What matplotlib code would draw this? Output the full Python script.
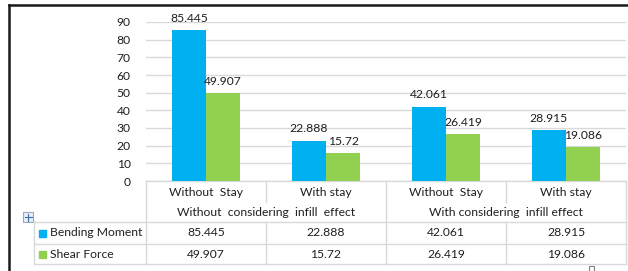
import matplotlib
matplotlib.use("Agg")
import matplotlib.pyplot as plt
from matplotlib.patches import Rectangle

# chart data
categories = ["Without  Stay", "With stay", "Without  Stay", "With stay"]
groups = ["Without  considering  infill  effect", "With considering  infill effect"]
series_names = ["Bending Moment", "Shear Force"]
bending_moment = [85.445, 22.888, 42.061, 28.915]
shear_force = [49.907, 15.72, 26.419, 19.086]
value_labels_bm = ["85.445", "22.888", "42.061", "28.915"]
value_labels_sf = ["49.907", "15.72", "26.419", "19.086"]
yticks = [0, 10, 20, 30, 40, 50, 60, 70, 80, 90]

BLUE = "#00B0F0"
GREEN = "#92D050"
GRID = "#D9D9D9"
TXT = "#1F1F1F"
FONT = "Lato"
FS = 8.7

W, H = 628, 271
fig = plt.figure(figsize=(W / 100, H / 100), dpi=100)
fig.patch.set_facecolor("white")

# overlay axis in pixel coords for the table and frame
ov = fig.add_axes([0, 0, 1, 1])
ov.set_xlim(0, W)
ov.set_ylim(H, 0)
ov.axis("off")

# plot area in pixels
x0, x1 = 146, 626
y_top, y_bot = 22, 181
ax = fig.add_axes([x0 / W, (H - y_bot) / H, (x1 - x0) / W, (y_bot - y_top) / H])
ax.set_xlim(-0.5, len(categories) - 0.5)
ax.set_ylim(0, 90)
ax.set_facecolor("none")
for s in ax.spines.values():
    s.set_visible(False)
ax.set_yticks(yticks)
ax.yaxis.grid(True, color=GRID, linewidth=1.0)
ax.set_axisbelow(True)
ax.tick_params(axis="y", length=0, pad=11, labelsize=FS, labelcolor=TXT)
for lab in ax.get_yticklabels():
    lab.set_fontfamily(FONT)
ax.set_xticks([])

idx = list(range(len(categories)))
bw = 0.285
ax.bar([i - bw / 2 for i in idx], bending_moment, width=bw, color=BLUE, zorder=2)
ax.bar([i + bw / 2 for i in idx], shear_force, width=bw, color=GREEN, zorder=2)
for i in idx:
    ax.annotate(value_labels_bm[i], (i - bw / 2, bending_moment[i]), xytext=(0, 4.5),
                textcoords="offset points", ha="center", va="bottom",
                fontsize=FS, family=FONT, color=TXT)
    ax.annotate(value_labels_sf[i], (i + bw / 2, shear_force[i]), xytext=(0, 4.5),
                textcoords="offset points", ha="center", va="bottom",
                fontsize=FS, family=FONT, color=TXT)

# table below the plot
col_w = (x1 - x0) / len(categories)
lc = "#D9D9D9"
lw = 1.0
rows = [(222, 244), (244, 264)]
left = 34

ov.plot([x0, x1], [181, 181], color=lc, lw=lw)
for y in (222, 244, 264):
    ov.plot([left, x1], [y, y], color=lc, lw=lw)
ov.plot([left, left], [222, 264], color=lc, lw=lw)
ov.plot([x0, x0], [181, 264], color=lc, lw=lw)
ov.plot([x1, x1], [181, 264], color=lc, lw=lw)
ov.plot([x0 + 2 * col_w] * 2, [181, 264], color=lc, lw=lw)
for k in (1, 3):
    xx = x0 + k * col_w
    ov.plot([xx, xx], [181, 202], color=lc, lw=lw)
    ov.plot([xx, xx], [222, 264], color=lc, lw=lw)

for i, c in enumerate(categories):
    ov.text(x0 + (i + 0.5) * col_w, 192, c, ha="center", va="center",
            fontsize=FS, family=FONT, color=TXT)
for g, name in enumerate(groups):
    ov.text(x0 + (2 * g + 1) * col_w, 212, name, ha="center", va="center",
            fontsize=FS, family=FONT, color=TXT)

for r, (name, vals, col) in enumerate(zip(series_names, [value_labels_bm, value_labels_sf], [BLUE, GREEN])):
    yc = (rows[r][0] + rows[r][1]) / 2
    ov.add_patch(Rectangle((39, yc - 3.5), 7, 7, color=col))
    ov.text(50, yc, name, ha="left", va="center", fontsize=FS, family=FONT, color=TXT)
    for i, v in enumerate(vals):
        ov.text(x0 + (i + 0.5) * col_w, yc, v, ha="center", va="center",
                fontsize=FS, family=FONT, color=TXT)

# table move handle and resize handle
ov.add_patch(Rectangle((23, 212), 10, 10, facecolor="#E8EEF6", edgecolor="#A0A8B8", lw=0.8))
ov.plot([24.5, 31.5], [217, 217], color="#3B6DB5", lw=0.8)
ov.plot([28, 28], [213.5, 220.5], color="#3B6DB5", lw=0.8)
ov.add_patch(Rectangle((589, 266), 5, 5, facecolor="white", edgecolor="#808080", lw=0.8))

# outer frame (top and left)
ov.plot([9, W], [5, 5], color="#1A1A1A", lw=1.8)
ov.plot([9, 9], [5, H], color="#1A1A1A", lw=1.8)

fig.savefig("out.png", dpi=100)
